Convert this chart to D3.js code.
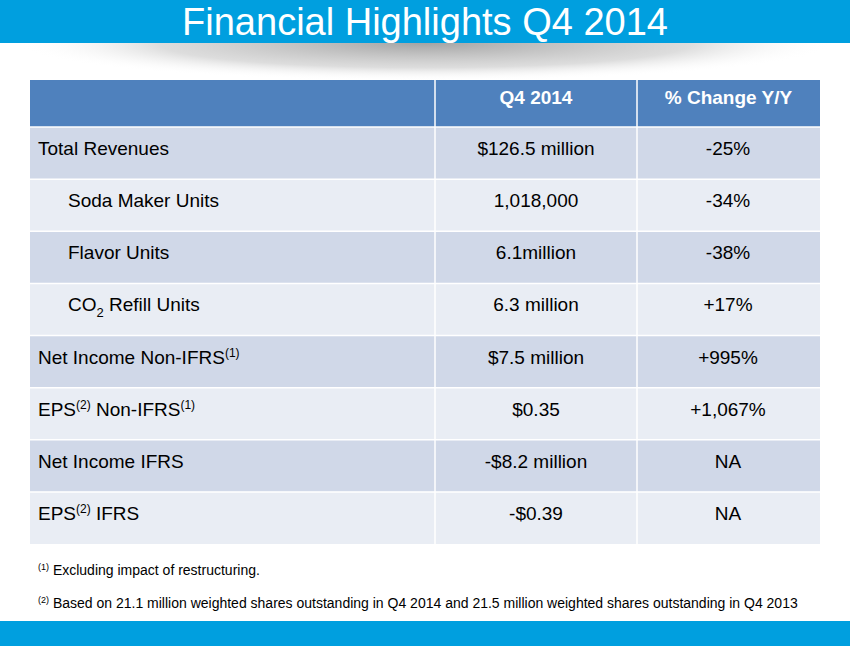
<!DOCTYPE html>
<html><head><meta charset="utf-8">
<script src="https://cdn.jsdelivr.net/npm/d3@7"></script>
<style>body{margin:0;background:#fff}svg{display:block;font-family:"Liberation Sans",Arial,sans-serif}</style>
</head><body><svg id="c" width="850" height="646"></svg>
<script>
const title = "Financial Highlights Q4 2014";
const columns = ["", "Q4 2014", "% Change Y/Y"];
const labels = ["Total Revenues","Soda Maker Units","Flavor Units","CO2 Refill Units","Net Income Non-IFRS","EPS Non-IFRS","Net Income IFRS","EPS IFRS"];
const indent = [false,true,true,true,false,false,false,false];
const q4Values = ["$126.5 million","1,018,000","6.1million","6.3 million","$7.5 million","$0.35","-$8.2 million","-$0.39"];
const changes = ["-25%","-34%","-38%","+17%","+995%","+1,067%","NA","NA"];
const footnotes = ["Excluding impact of restructuring.","Based on 21.1 million weighted shares outstanding in Q4 2014 and 21.5 million weighted shares outstanding in Q4 2013"];

const svg = d3.select("#c");
const defs = svg.append("defs");
const rg = defs.append("radialGradient").attr("id","sh");
rg.append("stop").attr("offset","0").attr("stop-color","#999").attr("stop-opacity",0.9);
rg.append("stop").attr("offset","0.65").attr("stop-color","#bbb").attr("stop-opacity",0.5);
rg.append("stop").attr("offset","1").attr("stop-color","#fff").attr("stop-opacity",0);
svg.append("ellipse").attr("cx",425).attr("cy",43).attr("rx",410).attr("ry",38).attr("fill","url(#sh)");
svg.append("rect").attr("x",0).attr("y",0).attr("width",850).attr("height",43).attr("fill","#009FDF");
svg.append("text").attr("x",425).attr("y",35).attr("text-anchor","middle").attr("fill","#fff")
  .attr("font-size",38).text(title);
svg.append("rect").attr("x",0).attr("y",621).attr("width",850).attr("height",25).attr("fill","#009FDF");

const x = d3.scaleOrdinal().domain([0,1,2]).range([30,435,637]);
const xEnd = [435,637,820];
const y = d3.scaleBand().domain(d3.range(labels.length)).range([127,544]);

const hdr = svg.append("g");
columns.forEach((c,i)=>{
  hdr.append("rect").attr("x",x(i)).attr("y",80).attr("width",xEnd[i]-x(i)).attr("height",47).attr("fill","#4F81BD");
  hdr.append("text").attr("x",(x(i)+xEnd[i])/2).attr("y",104).attr("text-anchor","middle")
    .attr("fill","#fff").attr("font-weight","bold").attr("font-size",19).text(c);
});

const rows = svg.append("g").selectAll("g").data(labels).join("g");
rows.each(function(d,r){
  const g = d3.select(this);
  const fill = r%2===0 ? "#D0D8E8" : "#E9EDF4";
  [0,1,2].forEach(i=>{
    g.append("rect").attr("x",x(i)).attr("y",y(r)).attr("width",xEnd[i]-x(i)).attr("height",y.bandwidth()).attr("fill",fill);
  });
  const ty = y(r)+y.bandwidth()/2+2;
  const t = g.append("text").attr("x",indent[r]?68:38).attr("y",ty).attr("font-size",19).attr("fill","#000");
  const sup = s => t.append("tspan").attr("font-size",12).attr("dy",-7).text(s);
  const norm = s => t.append("tspan").attr("font-size",19).attr("dy",7).text(s);
  if (d==="CO2 Refill Units"){ t.append("tspan").text("CO"); t.append("tspan").attr("font-size",13).attr("dy",6).text("2"); t.append("tspan").attr("dy",-6).text("  Refill Units"); }
  else if (d==="Net Income Non-IFRS"){ t.append("tspan").text("Net Income Non-IFRS"); sup("(1)"); }
  else if (d==="EPS Non-IFRS"){ t.append("tspan").text("EPS"); sup("(2)"); norm(" Non-IFRS"); sup("(1)"); }
  else if (d==="EPS IFRS"){ t.append("tspan").text("EPS"); sup("(2)"); norm(" IFRS"); }
  else t.text(d);
  g.append("text").attr("x",536).attr("y",ty).attr("text-anchor","middle").attr("font-size",19).text(q4Values[r]);
  g.append("text").attr("x",728).attr("y",ty).attr("text-anchor","middle").attr("font-size",19).text(changes[r]);
});
const lines = svg.append("g").attr("stroke","#fff").attr("stroke-width",1.5);
[435,637].forEach(v=>lines.append("line").attr("x1",v).attr("x2",v).attr("y1",80).attr("y2",544));
d3.range(labels.length).forEach(r=>lines.append("line").attr("x1",30).attr("x2",820).attr("y1",y(r)).attr("y2",y(r)));

footnotes.forEach((f,i)=>{
  const t = svg.append("text").attr("x",38).attr("y",[575,608][i]).attr("font-size",14);
  t.append("tspan").attr("font-size",9).attr("dy",-5).text(`(${i+1})`);
  t.append("tspan").attr("dy",5).text(" "+f);
});
</script></body></html>
